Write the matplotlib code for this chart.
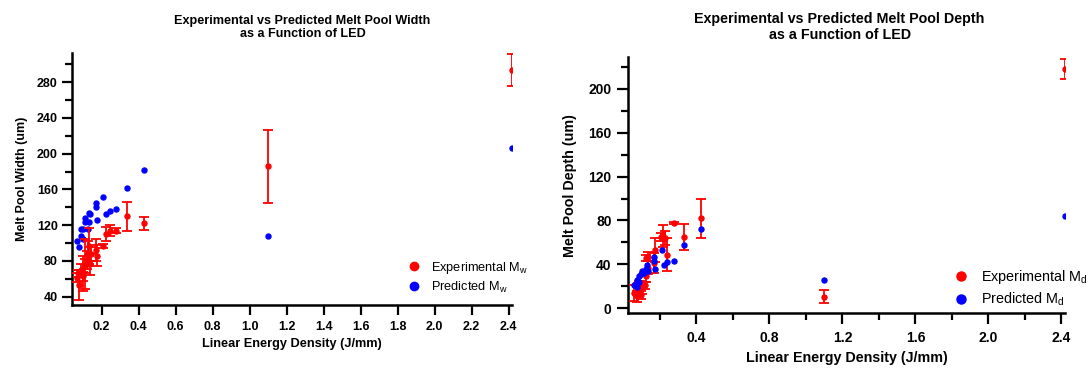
import matplotlib
matplotlib.use("Agg")
import matplotlib.pyplot as plt
from matplotlib.lines import Line2D
from matplotlib.ticker import MultipleLocator

plt.rcParams['font.family'] = ['Liberation Sans', 'DejaVu Sans']

# ---- melt pool width ----
w_pred_x = [0.067, 0.078, 0.086, 0.086, 0.097, 0.100, 0.108, 0.112, 0.127, 0.130, 0.134,
            0.138, 0.172, 0.172, 0.176, 0.209, 0.224, 0.243, 0.280, 0.335, 0.430, 1.10, 2.42]
w_pred = [102, 96, 108, 116, 104, 116, 128, 124, 116, 134, 124,
          132, 145, 140, 126, 152, 132, 136, 138, 162, 182, 108, 206]

w_exp_x = [0.067, 0.074, 0.078, 0.089, 0.097, 0.100, 0.108, 0.112, 0.120, 0.127, 0.134,
           0.138, 0.142, 0.168, 0.176, 0.209, 0.224, 0.243, 0.280, 0.335, 0.430, 1.10, 2.42]
w_exp = [61, 66, 53, 70, 63, 66, 74, 77, 81, 88, 97,
         76, 88, 92, 86, 97, 110, 114, 114, 130, 122, 186, 294]
w_exp_err = [5, 4, 17, 6, 5, 20, 8, 28, 10, 14, 20,
             12, 8, 12, 12, 2, 8, 6, 3, 16, 7.5, 41, 18]

# ---- melt pool depth ----
d_pred_x = [0.060, 0.072, 0.076, 0.083, 0.087, 0.095, 0.102, 0.110, 0.121, 0.129, 0.133,
            0.167, 0.167, 0.171, 0.209, 0.220, 0.239, 0.277, 0.330, 0.423, 1.10, 2.42]
d_pred = [21, 19, 26, 29, 24, 31, 34, 32, 36, 39, 34,
          47, 43, 36, 53, 39, 42, 43, 58, 72, 26, 84]

d_exp_x = [0.060, 0.072, 0.080, 0.087, 0.095, 0.102, 0.118, 0.125, 0.133, 0.125, 0.136,
           0.167, 0.171, 0.205, 0.216, 0.227, 0.239, 0.277, 0.330, 0.423, 1.10, 2.42]
d_exp = [14, 11, 17, 20, 12, 19, 21, 29, 37, 46, 47,
         41, 53, 65, 66, 64, 49, 78, 65, 82, 10.5, 218]
d_exp_err = [7, 5, 6, 5, 4, 6, 3, 5, 6, 3, 4,
             9, 11, 4, 10, 6, 15, 1, 12, 18, 6, 9]

RED = '#ff0000'
BLUE = '#0000ff'

fig = plt.figure(figsize=(10.89, 3.70), dpi=100)
ax1 = fig.add_axes([0.0658, 0.1765, 0.4047, 0.681])
ax2 = fig.add_axes([0.5769, 0.1532, 0.4011, 0.6927])


def style(ax, fs, maj, mino, xpad, ypad):
    for s in ['top', 'right']:
        ax.spines[s].set_visible(False)
    for s in ['left', 'bottom']:
        ax.spines[s].set_linewidth(1.8)
    ax.tick_params(which='major', direction='out', length=maj, width=1.6, labelsize=fs)
    ax.tick_params(which='minor', direction='out', length=mino, width=1.6)
    ax.tick_params(axis='x', which='major', pad=xpad)
    ax.tick_params(axis='y', which='major', pad=ypad)
    for lab in ax.get_xticklabels() + ax.get_yticklabels():
        lab.set_fontweight('bold')


# left panel
ax1.errorbar(w_exp_x, w_exp, yerr=w_exp_err, fmt='o', color=RED, ms=3.6,
             elinewidth=1.3, capsize=3.5, capthick=1.3, zorder=3)
ax1.plot(w_pred_x, w_pred, 'o', color=BLUE, ms=3.6, zorder=2)
ax1.set_xlim(0.038, 2.42)
ax1.set_ylim(31, 313)
ax1.yaxis.set_major_locator(MultipleLocator(40))
ax1.yaxis.set_minor_locator(MultipleLocator(20))
ax1.set_xticks([0.2, 0.4, 0.6, 0.8, 1.0, 1.2, 1.4, 1.6, 1.8, 2.0, 2.2, 2.4])
style(ax1, 9, 7, 5, 5, 3)
ax1.set_xlabel('Linear Energy Density (J/mm)', fontsize=9.2, fontweight='bold', labelpad=3)
ax1.set_ylabel('Melt Pool Width (um)', fontsize=9, fontweight='bold', labelpad=6)
ax1.set_title('Experimental vs Predicted Melt Pool Width\nas a Function of LED',
              fontsize=9.1, fontweight='bold', pad=11, x=0.524)
h1 = [Line2D([], [], marker='o', ls='', color=RED, ms=6),
      Line2D([], [], marker='o', ls='', color=BLUE, ms=6)]
fig.legend(h1, ['Experimental M$_\\mathregular{w}$', 'Predicted M$_\\mathregular{w}$'],
           loc='center left', bbox_to_anchor=(0.3728, 0.2508), frameon=False, fontsize=9.2,
           handletextpad=0.75, labelspacing=0.3, handlelength=1.2, borderpad=0,
           borderaxespad=0)

# right panel
ax2.errorbar(d_exp_x, d_exp, yerr=d_exp_err, fmt='o', color=RED, ms=3.6,
             elinewidth=1.3, capsize=3.5, capthick=1.3, zorder=3)
ax2.plot(d_pred_x, d_pred, 'o', color=BLUE, ms=3.6, zorder=4)
ax2.set_xlim(0.026, 2.42)
ax2.set_ylim(-4.6, 229)
ax2.xaxis.set_minor_locator(MultipleLocator(0.2))
ax2.yaxis.set_major_locator(MultipleLocator(40))
ax2.yaxis.set_minor_locator(MultipleLocator(20))
ax2.set_xticks([0.4, 0.8, 1.2, 1.6, 2.0, 2.4])
style(ax2, 10, 8, 5, 5, 4)
ax2.set_xlabel('Linear Energy Density (J/mm)', fontsize=10.3, fontweight='bold', labelpad=4)
ax2.set_ylabel('Melt Pool Depth (um)', fontsize=10.3, fontweight='bold', labelpad=8)
ax2.set_title('Experimental vs Predicted Melt Pool Depth\nas a Function of LED',
              fontsize=10.3, fontweight='bold', pad=13, x=0.484)
h2 = [Line2D([], [], marker='o', ls='', color=RED, ms=6.5),
      Line2D([], [], marker='o', ls='', color=BLUE, ms=6.5)]
fig.legend(h2, ['Experimental M$_\\mathregular{d}$', 'Predicted M$_\\mathregular{d}$'],
           loc='center left', bbox_to_anchor=(0.8745, 0.2219), frameon=False, fontsize=10.4,
           handletextpad=0.8, labelspacing=0.35, handlelength=1.2, borderpad=0,
           borderaxespad=0)

fig.savefig('out.png', dpi=100)
